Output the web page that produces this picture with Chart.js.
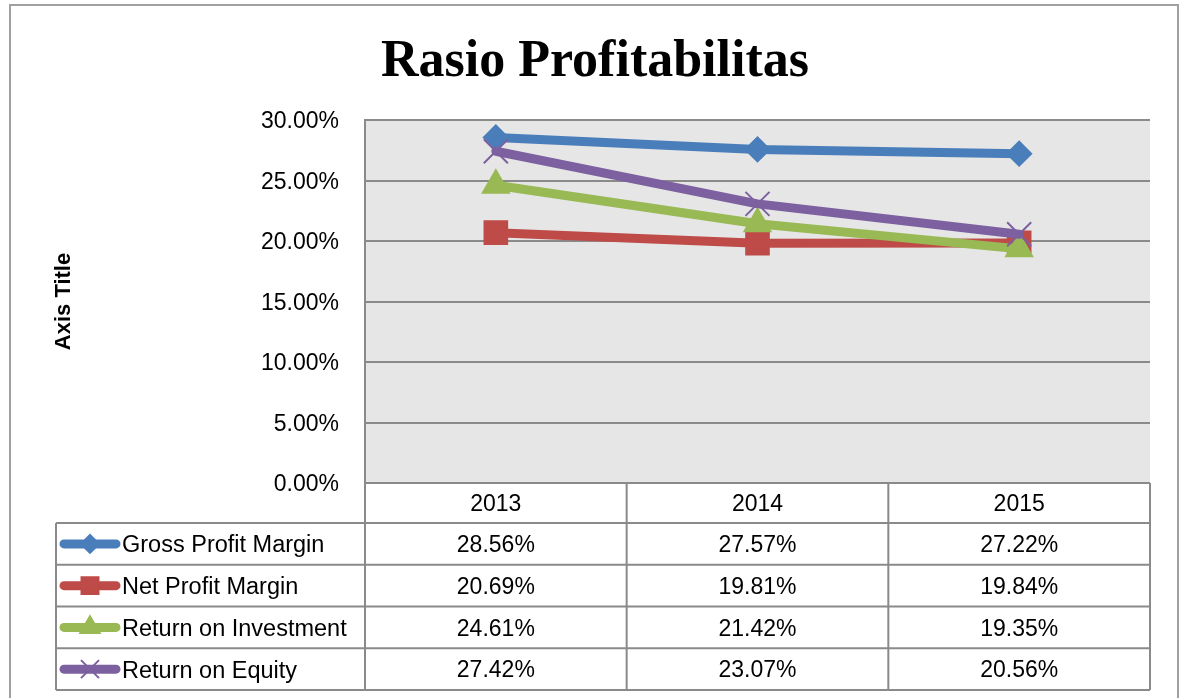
<!DOCTYPE html>
<html>
<head>
<meta charset="utf-8">
<script src="https://cdn.jsdelivr.net/npm/chart.js@4"></script>
<style>
  html, body { margin: 0; padding: 0; background: #fff; }
  #wrap { width: 1181px; height: 698px; position: relative; }
</style>
</head>
<body>
<div id="wrap"><canvas id="ratioChart"></canvas></div>
<script>
// Data
const years = ["2013", "2014", "2015"];
const grossProfitMargin = [28.56, 27.57, 27.22];
const netProfitMargin = [20.69, 19.81, 19.84];
const returnOnInvestment = [24.61, 21.42, 19.35];
const returnOnEquity = [27.42, 23.07, 20.56];
const seriesNames = ["Gross Profit Margin", "Net Profit Margin", "Return on Investment", "Return on Equity"];
const yTicks = [0, 5, 10, 15, 20, 25, 30];

const FONT = "'Liberation Sans', Arial, sans-serif";
const GRID = "#8a8a8a";

function makeSeries(label, data, color, style, radius, order) {
  return {
    label: label,
    data: data,
    borderColor: color,
    backgroundColor: color,
    borderWidth: 9,
    borderCapStyle: "round",
    borderJoinStyle: "round",
    tension: 0,
    pointStyle: style,
    pointRadius: radius,
    pointBorderWidth: 2,
    pointBackgroundColor: color,
    pointBorderColor: color,
    order: order
  };
}

const datasets = [
  makeSeries(seriesNames[0], grossProfitMargin, "#4a7ebb", "rectRot", 12, 4),
  makeSeries(seriesNames[1], netProfitMargin, "#be4b48", "rect", 16, 3),
  makeSeries(seriesNames[2], returnOnInvestment, "#98b954", "triangle", 15, 2),
  makeSeries(seriesNames[3], returnOnEquity, "#7d60a0", "crossRot", 17, 1)
];

// Frame + grey plot area
const backdrop = {
  id: "backdrop",
  beforeDraw(chart) {
    const ctx = chart.ctx;
    const a = chart.chartArea;
    ctx.save();
    ctx.fillStyle = "#fff";
    ctx.fillRect(0, 0, chart.width, chart.height);
    ctx.strokeStyle = "#a0a0a0";
    ctx.lineWidth = 2;
    ctx.strokeRect(10, 5, 1168, 720);
    ctx.fillStyle = "#e6e6e6";
    ctx.fillRect(a.left, a.top, a.right - a.left, a.bottom - a.top);
    ctx.restore();
  }
};

// Data table under the plot (Excel style)
const dataTable = {
  id: "dataTable",
  afterDraw(chart) {
    const ctx = chart.ctx;
    const a = chart.chartArea;
    const xs = chart.scales.x;
    const colW = (a.right - a.left) / years.length;
    const headH = 40;
    const rowH = 41.75;
    const tableLeft = 56;
    const top = a.bottom;
    const bottom = top + headH + rowH * seriesNames.length;

    ctx.save();
    ctx.strokeStyle = GRID;
    ctx.lineWidth = 2;
    ctx.beginPath();
    // verticals of the year columns
    for (let i = 0; i <= years.length; i++) {
      const x = a.left + i * colW;
      ctx.moveTo(x, top);
      ctx.lineTo(x, bottom);
    }
    ctx.moveTo(tableLeft, top + headH);
    ctx.lineTo(tableLeft, bottom);
    for (let r = 0; r <= seriesNames.length; r++) {
      const y = top + headH + r * rowH;
      ctx.moveTo(tableLeft, y);
      ctx.lineTo(a.right, y);
    }
    ctx.stroke();

    ctx.fillStyle = "#000";
    ctx.font = "23px " + FONT;
    ctx.textBaseline = "middle";
    ctx.textAlign = "center";
    years.forEach((yr, i) => {
      ctx.fillText(yr, xs.getPixelForValue(i), top + headH / 2 + 2);
    });

    chart.data.datasets.forEach((ds, r) => {
      const cy = top + headH + r * rowH + rowH / 2;
      ctx.fillStyle = "#000";
      ctx.font = "23px " + FONT;
      ctx.textAlign = "center";
      ds.data.forEach((v, i) => {
        ctx.fillText(v.toFixed(2) + "%", xs.getPixelForValue(i), cy + 2);
      });
      ctx.textAlign = "left";
      ctx.font = "23.5px " + FONT;
      ctx.fillText(ds.label, 122, cy + 2);

      // legend key
      ctx.strokeStyle = ds.borderColor;
      ctx.lineWidth = 9;
      ctx.lineCap = "round";
      ctx.beginPath();
      ctx.moveTo(64, cy);
      ctx.lineTo(116, cy);
      ctx.stroke();
      ctx.fillStyle = ds.pointBackgroundColor;
      ctx.strokeStyle = ds.pointBorderColor;
      ctx.lineWidth = ds.pointBorderWidth;
      ctx.lineCap = "butt";
      Chart.helpers.drawPoint(ctx, {
        pointStyle: ds.pointStyle,
        radius: ds.pointRadius * 0.75,
        borderWidth: ds.pointBorderWidth,
        rotation: 0
      }, 90, cy);
    });
    ctx.restore();
  }
};

new Chart(document.getElementById("ratioChart"), {
  type: "line",
  data: { labels: years, datasets: datasets },
  options: {
    responsive: true,
    maintainAspectRatio: false,
    animation: false,
    events: [],
    layout: { padding: { top: 0, left: 40, right: 31, bottom: 215 } },
    plugins: {
      legend: { display: false },
      tooltip: { enabled: false },
      title: {
        display: true,
        text: "Rasio Profitabilitas",
        color: "#000",
        font: { family: "'Liberation Serif', 'Times New Roman', serif", size: 52, weight: "bold", lineHeight: 1.2 },
        padding: { top: 31, bottom: 26.6 }
      }
    },
    scales: {
      x: {
        type: "category",
        offset: true,
        display: false
      },
      y: {
        min: 0,
        max: 30,
        afterBuildTicks: scale => { scale.ticks = yTicks.map(v => ({ value: v })); },
        afterFit: scale => { scale.width = 325; },
        ticks: {
          padding: 26,
          labelOffset: 2,
          color: "#000",
          font: { family: FONT, size: 23 },
          callback: v => v.toFixed(2) + "%"
        },
        grid: { color: GRID, lineWidth: 2, drawTicks: false },
        border: { display: true, color: GRID, width: 2 },
        title: {
          display: true,
          text: "Axis Title",
          color: "#000",
          font: { family: FONT, size: 22, weight: "bold" },
          padding: { top: 11, bottom: 0 }
        }
      }
    }
  },
  plugins: [backdrop, dataTable]
});
</script>
</body>
</html>
